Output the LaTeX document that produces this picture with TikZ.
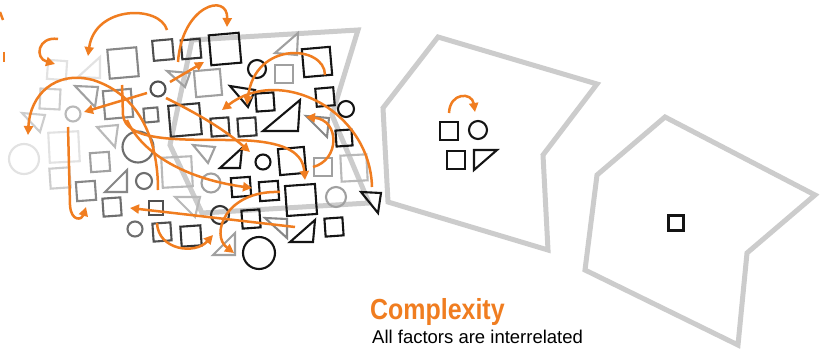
\documentclass[tikz,border=0pt]{standalone}
\usepackage{fontspec}
\setmainfont{Liberation Sans}
\newfontfamily\headfont[FakeStretch=0.86]{Liberation Sans}
\usetikzlibrary{arrows.meta}
\definecolor{orng}{RGB}{240,125,32}
\definecolor{polyg}{RGB}{204,204,204}
\definecolor{ga}{RGB}{226,226,226}
\definecolor{gb}{RGB}{205,205,205}
\definecolor{gc}{RGB}{185,185,185}
\definecolor{gd}{RGB}{160,160,160}
\definecolor{ge}{RGB}{135,135,135}
\definecolor{gf}{RGB}{110,110,110}
\definecolor{gg}{RGB}{80,80,80}
\definecolor{gh}{RGB}{50,50,50}
\definecolor{gk}{RGB}{20,20,20}
\tikzset{
  sq/.style={draw, rectangle, inner sep=0pt, minimum size=#1, line width=2.1pt},
  ci/.style={draw, circle, inner sep=0pt, minimum size=#1, line width=2.1pt},
  tr/.style={line width=2.1pt, line join=miter},
  arr/.style={draw=orng, line width=2.5pt, -{Triangle[length=9pt,width=9pt]}},
  pl/.style={draw=polyg, line width=5pt, line join=miter},
}
\begin{document}
\begin{tikzpicture}[x=1pt,y=-1pt]
\fill[white] (0,0) rectangle (822,353);
\useasboundingbox (0,0) rectangle (822,353);
% big outlines
\draw[pl] (192,40)--(358,30)--(332,115)--(369,203)--(202,213)--(170,145)--cycle;
\draw[pl] (438,37)--(597,84)--(543,155)--(548,250)--(388,202)--(383,108)--cycle;
\draw[pl] (665,117)--(815,195)--(747,253)--(738,345)--(585,270)--(597,175)--cycle;
% lightest shapes
\node[ci=30, draw=ga] (c1) at (24,159) {};
\node[sq=19, draw=ga, rotate=-4] (s1) at (57,70) {};
\draw[tr, ga] (78,77)--(100,57)--(100,78)--cycle;
\node[sq=20, draw=gb, rotate=-3] (s2) at (50,99) {};
\draw[tr, gb] (22,113)--(45,115)--(40,132)--cycle;
\node[sq=30, draw=ga, rotate=3] (s3) at (64,147) {};
\node[sq=20, draw=gb, rotate=4] (s4) at (60,178) {};
% mid greys
\draw[tr, gd] (75,86)--(98,87)--(95,107)--cycle;
\node[ci=15, draw=gc] (c2) at (73,114) {};
\draw[tr, gc] (97,127)--(118,125)--(115,147)--cycle;
\node[sq=19, draw=gd, rotate=4] (s5) at (100,162) {};
\node[sq=19, draw=ge, rotate=4] (s6) at (86,191) {};
\draw[tr, ge] (105,192)--(127,170)--(127,192)--cycle;
\node[sq=18, draw=gf, rotate=4] (s7) at (112,207) {};
\node[ci=31, draw=gf] (c3) at (138,147) {};
\node[ci=16, draw=gf] (c4) at (144,181) {};
\node[ci=15, draw=gf] (c5) at (135,229) {};
\node[sq=14, draw=gg] (s8) at (156,208) {};
\node[sq=18, draw=gg, rotate=4] (s9) at (162,232) {};
\node[sq=20, draw=gh, rotate=4] (s10) at (191,236) {};
\node[sq=29, draw=ge, rotate=5] (s11) at (123,63) {};
\node[sq=28, draw=ge, rotate=5] (s12) at (118,104) {};
\node[sq=20, draw=gg, rotate=5] (s13) at (163,50) {};
\node[sq=19, draw=gh, rotate=5] (s14) at (191,49) {};
\node[ci=15, draw=gg] (c6) at (158,89) {};
\node[sq=14, draw=gf, rotate=5] (s15) at (151,115) {};
\node[sq=31, draw=gh, rotate=5] (s16) at (185,120) {};
\draw[tr, gd] (167,71)--(190,73)--(185,87)--cycle;
\node[sq=26, draw=gd, rotate=5] (s17) at (208,83) {};
\node[sq=30, draw=gc, rotate=3] (s18) at (177,172) {};
\draw[tr, gc] (175,197)--(200,197)--(195,217)--cycle;
\draw[tr, gd] (193,145)--(215,147)--(208,163)--cycle;
\node[ci=19, draw=gd] (c7) at (211,183) {};
\draw[tr, gd] (213,255)--(235,233)--(235,255)--cycle;
\draw[tr, ge] (265,218)--(287,219)--(287,238)--cycle;
\draw[tr, ge] (306,116)--(329,118)--(327,137)--cycle;
\draw[tr, gd] (275,53)--(298,33)--(297,55)--cycle;
\node[sq=18, draw=gd] (s19) at (284,74) {};
\node[sq=18, draw=gd] (s20) at (323,167) {};
\node[sq=26, draw=gc, rotate=3] (s21) at (354,168) {};
\node[ci=20, draw=gd] (c8) at (336,197) {};
% black shapes
\node[sq=30, draw=gk, rotate=5] (b1) at (225,49) {};
\node[ci=18, draw=gk] (b2) at (257,69) {};
\node[sq=28, draw=gk, rotate=5] (b3) at (317,62) {};
\draw[tr, gk] (230,86)--(255,90)--(248,107)--cycle;
\node[sq=18, draw=gk, rotate=4] (b4) at (265,102) {};
\node[sq=18, draw=gk, rotate=5] (b5) at (325,97) {};
\node[ci=16, draw=gk] (b6) at (346,109) {};
\draw[tr, gk] (263,131)--(300,100)--(298,131)--cycle;
\node[sq=18, draw=gh, rotate=4] (b7) at (220,127) {};
\node[sq=18, draw=gh, rotate=4] (b8) at (247,127) {};
\node[sq=16, draw=gk, rotate=4] (b9) at (344,138) {};
\node[sq=26, draw=gk, rotate=5] (b10) at (292,161) {};
\draw[tr, gk] (220,168)--(242,148)--(240,168)--cycle;
\node[ci=15, draw=gk] (b11) at (263,162) {};
\node[sq=19, draw=gk, rotate=4] (b12) at (241,187) {};
\node[sq=19, draw=gk, rotate=4] (b13) at (269,191) {};
\node[sq=30, draw=gk, rotate=4] (b14) at (301,200) {};
\draw[tr, gk] (361,192)--(381,193)--(378,213)--cycle;
\node[ci=18, draw=gh] (b15) at (220,215) {};
\node[sq=18, draw=gk, rotate=4] (b16) at (251,219) {};
\draw[tr, gk] (290,242)--(315,220)--(313,242)--cycle;
\node[sq=18, draw=gk, rotate=4] (b17) at (334,227) {};
\node[ci=32, draw=gk] (b18) at (259,253) {};
% middle group
\node[sq=18, draw=gk] (m1) at (449,131) {};
\node[ci=18, draw=gk] (m2) at (478,130) {};
\node[sq=18, draw=gk] (m3) at (456,160) {};
\draw[tr, gk] (474,150)--(497,150)--(474,170)--cycle;
% right group
\node[sq=15, draw=gk] (n1) at (676,223) {};
% orange arrows
\draw[orng, line width=2.5pt] (0,12)--(3,20);
\draw[orng, line width=2.5pt] (4,52)--(4,62);
\draw[arr] (58,39) .. controls (38,36) and (34,58) .. (55,64);
\draw[arr] (167,30) .. controls (160,5) and (95,5) .. (88,56);
\draw[arr] (178,62) .. controls (182,5) and (228,-8) .. (227,27);
\draw[arr] (170,82) -- (204,62);
\draw[arr] (147,93) -- (84,112);
\draw[arr] (158,190) .. controls (158,140) and (140,95) .. (93,80) .. controls (55,70) and (30,95) .. (28,135);
\draw[arr] (122,85) -- (123,115) .. controls (126,140) and (170,140) .. (230,140) .. controls (290,140) and (303,155) .. (305,180);
\draw[arr] (68,127) -- (70,205) .. controls (71,222) and (82,220) .. (86,207);
\draw[arr] (295,227) -- (130,208);
\draw[arr] (157,223) .. controls (158,250) and (195,255) .. (213,235);
\draw[arr] (166,98) .. controls (200,115) and (225,130) .. (250,152);
\draw[arr] (127,120) .. controls (140,150) and (180,178) .. (252,188);
\draw[arr] (280,192) .. controls (225,190) and (210,235) .. (234,253);
\draw[arr] (313,167) .. controls (340,160) and (340,120) .. (306,117);
\draw[arr] (372,187) .. controls (370,110) and (280,65) .. (222,110);
\draw[arr] (325,75) .. controls (325,45) and (255,40) .. (247,105);
\draw[arr] (449,113) .. controls (450,92) and (472,92) .. (475,112);
% text
\node[anchor=base west, inner sep=0pt, text=orng, font=\headfont\bfseries\fontsize{29}{29}\selectfont] (title) at (370,319) {Complexity};
\node[anchor=base west, inner sep=0pt, font=\fontsize{18.5}{20}\selectfont] (sub) at (372,343) {All factors are interrelated};
\end{tikzpicture}
\end{document}
